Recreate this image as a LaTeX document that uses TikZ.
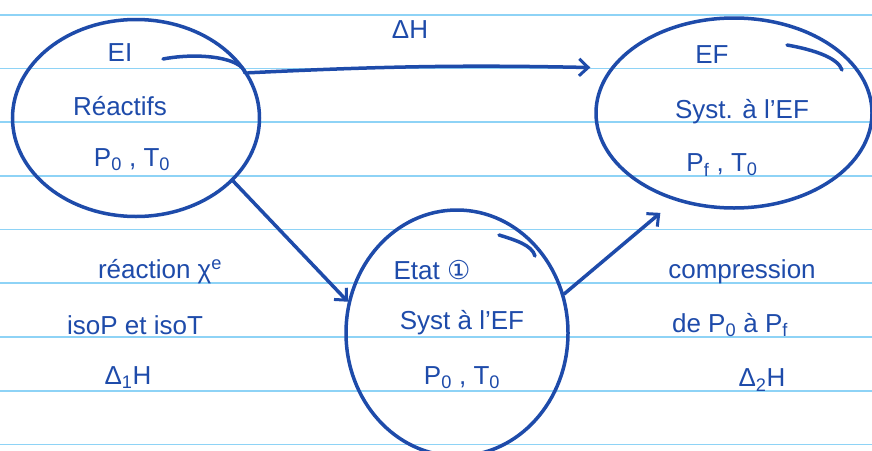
\documentclass[tikz,border=0pt]{standalone}
\usepackage{fontspec}
\setmainfont{Liberation Sans}
\newfontfamily\symfont{DejaVu Sans}
\usetikzlibrary{shapes.geometric,arrows.meta}
\definecolor{ink}{HTML}{1E4BAA}
\definecolor{paper}{HTML}{8ED3F6}
\tikzset{
  paperline/.style={draw=paper, line width=1.3pt},
  blob/.style={ellipse, draw=ink, line width=3.5pt, inner sep=0pt},
  conn/.style={draw=ink, line width=3.5pt, line cap=round, -{Straight Barb[length=9pt,width=17pt,line width=3pt]}},
  tail/.style={draw=ink, line width=3.5pt, line cap=round},
  lbl/.style={text=ink, font=\fontsize{26}{30}\selectfont, inner sep=0pt, anchor=center}
}
\newcommand{\sbs}[1]{\textsubscript{#1}}
\begin{document}
\begin{tikzpicture}[x=1pt, y=-1pt]
\useasboundingbox (0,0) rectangle (872,450);
\fill[white] (0,0) rectangle (872,450);
% ruled paper
\foreach \yy in {15,68.5,122,176,229.5,283,337,391,444.5}
  \draw[paperline] (0,\yy) -- (872,\yy);
% states
\node[blob, minimum width=247pt, minimum height=197pt] (ei) at (136,118) {};
\node[blob, minimum width=276pt, minimum height=190pt] (ef) at (734,113) {};
\node[blob, minimum width=222pt, minimum height=246pt] (etat) at (457,333) {};
% tails of the hand-drawn loops
\coordinate (eit) at (163,59);
\coordinate (eft) at (787,45);
\coordinate (etatt) at (499,235);
\draw[tail] (eit) .. controls (200,52) and (242,58) .. (245,73);
\draw[tail] (eft) .. controls (815,50) and (838,58) .. (842,70);
\draw[tail] (etatt) .. controls (515,240) and (532,245) .. (535,256);
% texts in EI
\node[lbl] (t1) at (120,53) {EI};
\node[lbl] (t2) at (120,106) {Réactifs};
\node[lbl] (t3) at (132,160) {P\sbs{0} , T\sbs{0}};
% texts in EF
\node[lbl] (t4) at (712,55) {EF};
\node[lbl] (t5) at (742,112) {Syst. à l'EF};
\node[lbl] (t6) at (722,165) {P\sbs{f} , T\sbs{0}};
% texts in Etat 1
\node[lbl] (t7) at (432,270) {Etat {\symfont ①}};
\node[lbl] (t8) at (462,323) {Syst à l'EF};
\node[lbl] (t9) at (462,378) {P\sbs{0} , T\sbs{0}};
% arrows
\draw[conn, shorten >=20pt] (ei.22) to[bend left=2] (ef.160);
\draw[conn] (ei.-33) -- (etat.164);
\draw[conn, shorten >=19pt] (etat.20) -- (ef.-124);
% arrow labels
\node[lbl] (dh) at (410,30) {ΔH};
\node[lbl] (r1) at (160,272) {réaction χ\textsuperscript{e}};
\node[lbl] (r2) at (135,325) {isoP et isoT};
\node[lbl] (r3) at (128,378) {Δ\sbs{1}H};
\node[lbl] (c1) at (742,272) {compression};
\node[lbl] (c2) at (730,325) {de P\sbs{0} à P\sbs{f}};
\node[lbl] (c3) at (762,380) {Δ\sbs{2}H};
\end{tikzpicture}
\end{document}
